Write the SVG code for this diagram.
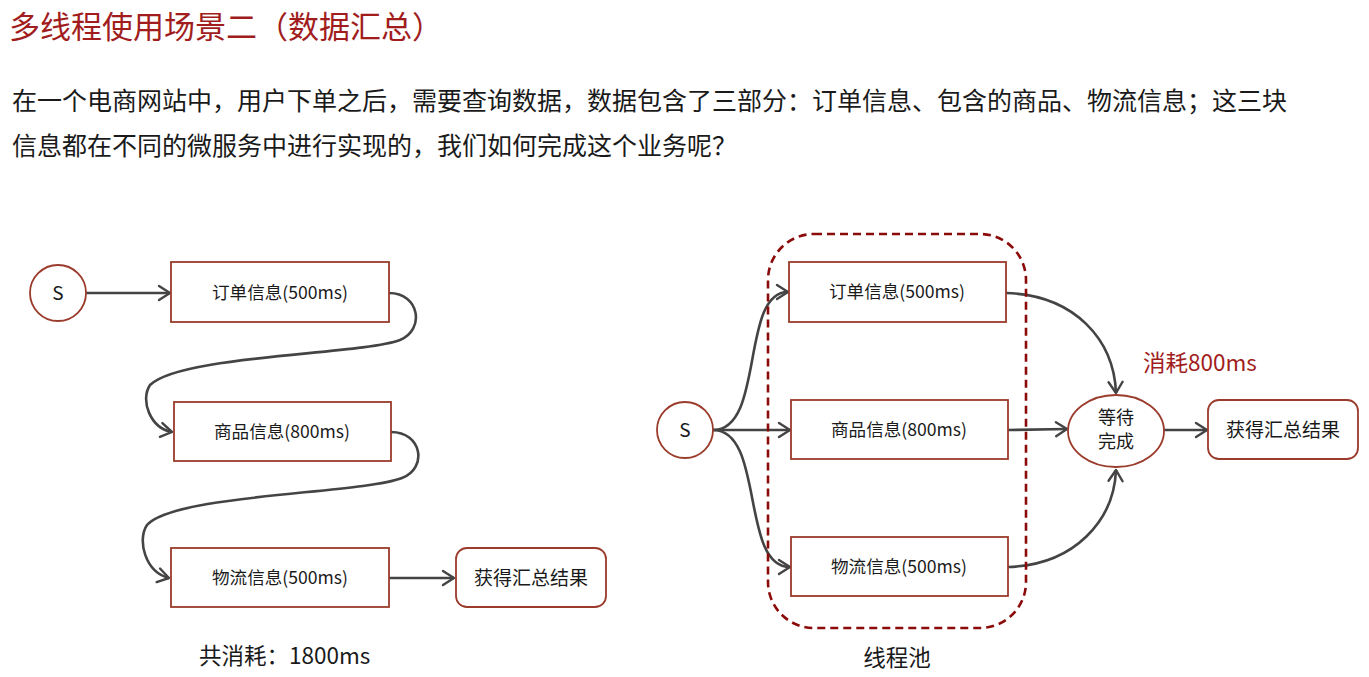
<svg xmlns="http://www.w3.org/2000/svg" width="1369" height="677" viewBox="0 0 1369 677">
<defs>
<marker id="arr" markerUnits="userSpaceOnUse" markerWidth="16" markerHeight="18" refX="13" refY="8" orient="auto" viewBox="0 0 16 16">
<path d="M2,1 L13,8 L2,15" fill="none" stroke="#444" stroke-width="2.4" stroke-linecap="round" stroke-linejoin="round"/>
</marker>
</defs>
<style>
text{font-family:"Noto Sans CJK SC","Noto Sans",sans-serif;fill:#1a1a1a}
.title{font-size:31px;fill:#a11d1d}
.para{font-size:25px}
.box{fill:#fff;stroke:#9a3b2b;stroke-width:1.8}
.lbl{font-size:17.6px;text-anchor:middle}
.res{font-size:19px;text-anchor:middle}
.wt{font-size:18px;text-anchor:middle}
.conn path,.conn line{fill:none;stroke:#444;stroke-width:2.6;marker-end:url(#arr)}
.note{font-size:22.5px}
.red{fill:#a11d1d}
.pool{fill:none;stroke:#8b0a0a;stroke-width:2.6;stroke-dasharray:8 5}
</style>
<rect width="1369" height="677" fill="#fff"/>
<text class="title" x="9" y="38">多线程使用场景二（数据汇总）</text>
<text class="para" x="12" y="110">在一个电商网站中，用户下单之后，需要查询数据，数据包含了三部分：订单信息、包含的商品、物流信息；这三块</text>
<text class="para" x="12" y="155">信息都在不同的微服务中进行实现的，我们如何完成这个业务呢？</text>

<g class="conn" id="connectors">
<line x1="86" y1="293" x2="170" y2="293"/>
<path d="M389,293 C420,293 425,330 400,340 C360,355 180,355 150,385 C140,400 150,428 172,432"/>
<path d="M391,432 C422,432 428,468 402,478 C360,494 175,494 147,525 C137,540 145,572 169,578"/>
<line x1="389" y1="578" x2="454" y2="578"/>
<path d="M713,430 C765,430 740,292 788,292"/>
<line x1="713" y1="430" x2="790" y2="430"/>
<path d="M713,430 C765,430 740,567 790,567"/>
<path d="M1006,293 C1075,295 1114,340 1116,393"/>
<line x1="1008" y1="430" x2="1067" y2="429"/>
<path d="M1008,567 C1075,565 1114,520 1116,470"/>
<line x1="1164" y1="430" x2="1207" y2="430"/>
</g>

<rect class="pool" x="768" y="234" width="258" height="394" rx="46"/>

<g id="s1"><circle class="box" cx="58" cy="293" r="28"/><text class="res" x="58" y="300">S</text></g>
<g id="l-order"><rect class="box" x="171" y="262" width="218" height="60"/><text class="lbl" x="280" y="299">订单信息(500ms)</text></g>
<g id="l-goods"><rect class="box" x="174" y="402" width="217" height="59"/><text class="lbl" x="282" y="438">商品信息(800ms)</text></g>
<g id="l-ship"><rect class="box" x="171" y="548" width="218" height="59"/><text class="lbl" x="280" y="584">物流信息(500ms)</text></g>
<g id="l-res"><rect class="box" x="456" y="548" width="150" height="59" rx="11"/><text class="res" x="531" y="585">获得汇总结果</text></g>
<text class="note" x="199" y="664">共消耗：1800ms</text>

<g id="s2"><circle class="box" cx="685" cy="430" r="28"/><text class="res" x="685" y="437">S</text></g>
<g id="r-order"><rect class="box" x="789" y="262" width="217" height="60"/><text class="lbl" x="897" y="298">订单信息(500ms)</text></g>
<g id="r-goods"><rect class="box" x="791" y="400" width="217" height="59"/><text class="lbl" x="899" y="436">商品信息(800ms)</text></g>
<g id="r-ship"><rect class="box" x="791" y="537" width="217" height="59"/><text class="lbl" x="899" y="573">物流信息(500ms)</text></g>
<g id="wait"><ellipse class="box" cx="1116" cy="431" rx="48" ry="36"/><text class="wt" x="1116" y="424">等待</text><text class="wt" x="1116" y="448">完成</text></g>
<g id="r-res"><rect class="box" x="1208" y="400" width="150" height="59" rx="11"/><text class="res" x="1283" y="437">获得汇总结果</text></g>
<text class="note red" x="1143" y="371">消耗800ms</text>
<text class="note" x="897" y="666" text-anchor="middle">线程池</text>
</svg>
